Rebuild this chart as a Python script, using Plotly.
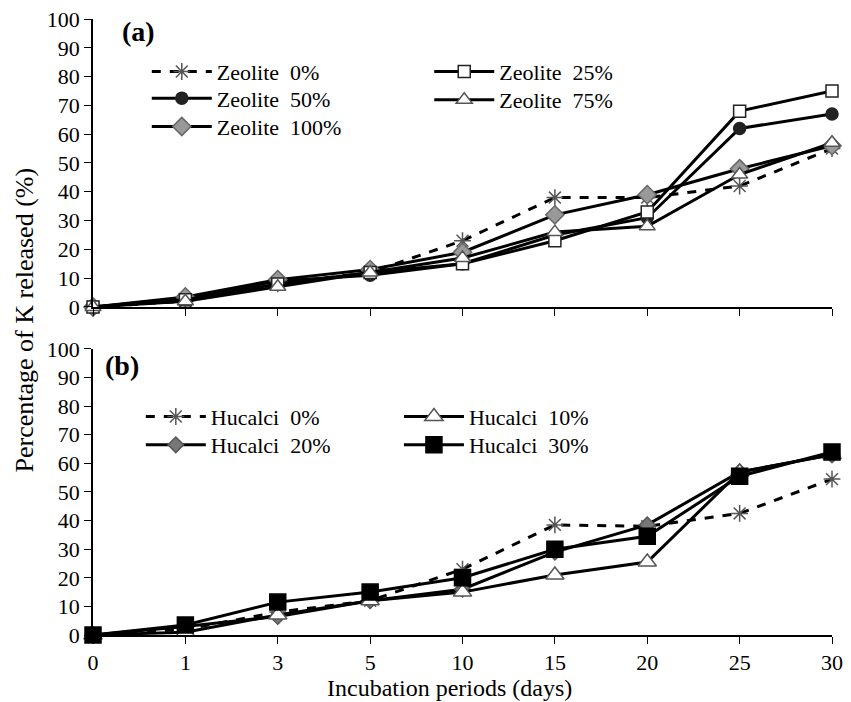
import plotly.graph_objects as go

days = ["0", "1", "3", "5", "10", "15", "20", "25", "30"]
pos = list(range(len(days)))

zeolite_0 = [0, 2, 8, 12, 23, 38, 38, 42, 55]
zeolite_25 = [0, 2.5, 8, 12, 15, 23, 33, 68, 75]
zeolite_50 = [0, 3, 9, 11, 15, 25, 31, 62, 67]
zeolite_75 = [0, 2, 7, 12, 17, 26, 28, 46, 57]
zeolite_100 = [0, 3.5, 9.5, 13, 19, 32, 39, 48, 56]

hucalci_0 = [0, 2, 8, 12, 23, 38.5, 38, 42.5, 54.5]
hucalci_10 = [0, 1, 7, 12, 15, 21, 25.5, 57, 63]
hucalci_20 = [0, 3, 6.5, 12, 16, 29, 38.5, 57, 63]
hucalci_30 = [0, 3.5, 11.5, 15, 20, 30, 34.5, 55.5, 64]

yticks = list(range(0, 101, 10))

FONT = "Liberation Serif"
fig = go.Figure()

def add(y, name, symbol, fill, line_col, dash, xa, ya, legend, size=12):
    fig.add_trace(go.Scatter(
        x=pos, y=y, name=name, mode="lines+markers",
        line=dict(color="black", width=3, dash=dash),
        marker=dict(symbol=symbol, size=size, color=fill,
                    line=dict(color=line_col, width=1.5)),
        xaxis=xa, yaxis=ya, legend=legend, cliponaxis=False))

add(zeolite_0, "Zeolite  0%", "asterisk-open", "#555", "#555", "dash", "x", "y", "legend", 14)
add(zeolite_50, "Zeolite  50%", "circle", "#222", "#222", "solid", "x", "y", "legend2")
add(zeolite_100, "Zeolite  100%", "diamond", "#999", "#666", "solid", "x", "y", "legend3", 14)
add(zeolite_25, "Zeolite  25%", "square", "white", "#222", "solid", "x", "y", "legend4")
add(zeolite_75, "Zeolite  75%", "triangle-up", "white", "#555", "solid", "x", "y", "legend5", 14)

add(hucalci_0, "Hucalci  0%", "asterisk-open", "#555", "#555", "dash", "x2", "y2", "legend6", 14)
add(hucalci_20, "Hucalci  20%", "diamond", "#777", "#555", "solid", "x2", "y2", "legend7", 12)
add(hucalci_10, "Hucalci  10%", "triangle-up", "white", "#555", "solid", "x2", "y2", "legend8", 16)
add(hucalci_30, "Hucalci  30%", "square", "black", "black", "solid", "x2", "y2", "legend9", 16)

axis_common = dict(showline=True, linecolor="black", linewidth=1.5, ticks="outside",
                   ticklen=7, tickcolor="black", showgrid=False, zeroline=False,
                   automargin=False, ticklabeloverflow="allow",
                   tickfont=dict(family=FONT, size=22, color="black"))

def leg(x, y):
    return dict(x=x, y=y, font=dict(family=FONT, size=22, color="black"),
                bgcolor="rgba(0,0,0,0)", xanchor="left", yanchor="top",
                tracegroupgap=0, itemwidth=60)

fig.update_layout(
    width=843, height=694,
    showlegend=True,
    paper_bgcolor="white", plot_bgcolor="white",
    margin=dict(l=85, r=19, t=11, b=67),
    font=dict(family=FONT, color="black", size=22),
    xaxis=dict(domain=[0, 1], range=[0, 8], tickvals=pos, showticklabels=False,
               anchor="y", **axis_common),
    yaxis=dict(domain=[0.5325, 1], range=[0, 100], tickvals=yticks, anchor="x", **axis_common),
    xaxis2=dict(domain=[0, 1], range=[0, 8], tickvals=pos, ticktext=days,
                anchor="y2", **axis_common),
    yaxis2=dict(domain=[0, 0.4643], range=[0, 100], tickvals=yticks, anchor="x2", **axis_common),
    legend=leg(0.0728, 0.9485),
    legend2=leg(0.0728, 0.9053),
    legend3=leg(0.0728, 0.8593),
    legend4=leg(0.455, 0.9485),
    legend5=leg(0.455, 0.9026),
    legend6=leg(0.0647, 0.3885),
    legend7=leg(0.0647, 0.3425),
    legend8=leg(0.414, 0.3885),
    legend9=leg(0.414, 0.3425),
    annotations=[
        dict(text="<b>(a)</b>", x=0.036, y=0.979, xref="paper", yref="paper",
             xanchor="left", yanchor="middle", showarrow=False,
             font=dict(family=FONT, size=28, color="black")),
        dict(text="<b>(b)</b>", x=0.0134, y=0.4367, xref="paper", yref="paper",
             xanchor="left", yanchor="middle", showarrow=False,
             font=dict(family=FONT, size=28, color="black")),
        dict(text="Percentage of K released (%)", x=-0.093, y=0.511, xref="paper", yref="paper",
             textangle=-90, showarrow=False, xanchor="center", yanchor="middle",
             font=dict(family=FONT, size=26, color="black")),
        dict(text="Incubation periods (days)", x=0.483, y=-0.0861, xref="paper", yref="paper",
             showarrow=False, xanchor="center", yanchor="middle",
             font=dict(family=FONT, size=24, color="black")),
    ],
)

fig.write_html("out.html")
